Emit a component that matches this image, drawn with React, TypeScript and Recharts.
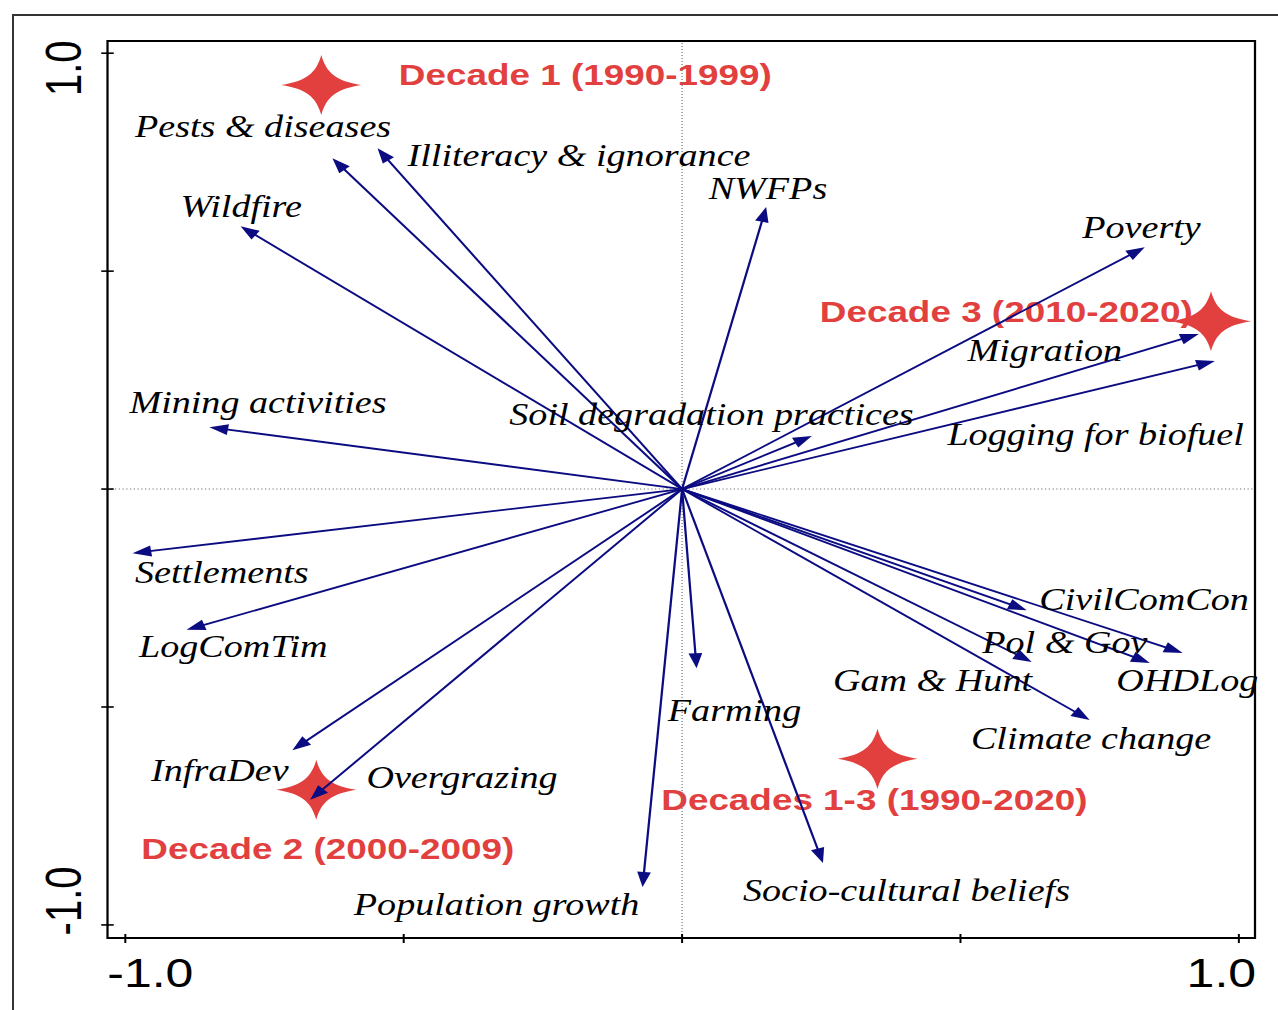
import { ScatterChart, Scatter, XAxis, YAxis, ReferenceLine, ReferenceArea } from 'recharts'

// biplot arrows (variable scores)
const VARIABLES = [
  'Pests & diseases', 'Illiteracy & ignorance', 'Wildfire', 'NWFPs', 'Poverty',
  'Migration', 'Logging for biofuel', 'Soil degradation practices', 'Mining activities', 'Settlements',
  'LogComTim', 'InfraDev', 'Overgrazing', 'Population growth', 'Farming',
  'Socio-cultural beliefs', 'CivilComCon', 'Pol & Gov', 'OHDLog', 'Gam & Hunt',
  'Climate change',
]
const VAR_X = [
  -0.628, -0.547, -0.793, 0.151, 0.831,
  0.928, 0.957, 0.233, -0.849, -0.987,
  -0.890, -0.700, -0.668, -0.071, 0.026,
  0.253, 0.619, 0.840, 0.899, 0.628,
  0.732,
]
const VAR_Y = [
  0.759, 0.782, 0.603, 0.647, 0.555,
  0.356, 0.294, 0.122, 0.142, -0.147,
  -0.323, -0.599, -0.713, -0.913, -0.411,
  -0.858, -0.278, -0.399, -0.376, -0.397,
  -0.530,
]

// decade samples (stars)
const DECADES = ['Decade 1 (1990-1999)', 'Decade 2 (2000-2009)', 'Decade 3 (2010-2020)', 'Decades 1-3 (1990-2020)']
const DECADE_X = [-0.648, -0.657, 0.950, 0.351]
const DECADE_Y = [0.927, -0.690, 0.385, -0.619]

const X_TICKS = [-1, -0.5, 0, 0.5, 1]
const Y_TICKS = [-1, -0.5, 0, 0.5, 1]
const X_DOMAIN = [-1.032, 1.029]
const Y_DOMAIN = [-1.03, 1.028]

// label placement relative to arrow tip / star centre (px, unscaled)
const VAR_LABEL_OFFSET = [
  [-158, -21], [24, 18], [-48, -9], [-46, -8], [-50, -9],
  [-185, 27], [-214, 84], [-242, -11], [-64, -14], [2, 30],
  [-38, 27], [-113, 31], [45, -12], [-231, 28], [-23, 53],
  [-64, 38], [10, 0], [-134, -10], [-53, 38], [-159, 29],
  [-95, 29],
]
const DECADE_LABEL_OFFSET = [[62, 0], [-140, 69], [-313, 1], [-173, 51]]

const RED = '#e23f3f'
const NAVY = '#0b0b82'
const SERIF = "'Liberation Serif', 'Times New Roman', serif"
const SANS = "'Liberation Sans', Arial, sans-serif"
const STRETCH = 1.25
const EPS = 0.001

const varData = VARIABLES.map((name, i) => ({ x: VAR_X[i], y: VAR_Y[i], name, i }))
const decadeData = DECADES.map((name, i) => ({ x: DECADE_X[i], y: DECADE_Y[i], name, i }))

function Arrow(props: any) {
  const { x1, y1, x2, y2 } = props
  const dx = x2 - x1
  const dy = y2 - y1
  const len = Math.hypot(dx, dy)
  const ux = dx / len
  const uy = dy / len
  const hl = 15
  const hw = 5.5
  const bx = x2 - ux * hl
  const by = y2 - uy * hl
  return (
    <g>
      <line x1={x1} y1={y1} x2={bx + ux * 3} y2={by + uy * 3} stroke={NAVY} strokeWidth={1.8} />
      <polygon
        points={`${x2},${y2} ${bx - uy * hw},${by + ux * hw} ${bx + uy * hw},${by - ux * hw}`}
        fill={NAVY}
      />
    </g>
  )
}

// four-point star path (concave sides, sharp tips)
function starPath(cx: number, cy: number) {
  const rx = 32
  const ry = 30
  const a = 4
  const b = 12
  const seg = (sx: number, sy: number) =>
    `C${cx + sx * a},${cy + sy * b} ${cx + sx * b},${cy + sy * a} `
  return `M${cx},${cy - ry} ` +
    seg(1, -1) + `${cx + rx},${cy} ` +
    `C${cx + b},${cy + a} ${cx + a},${cy + b} ${cx},${cy + ry} ` +
    `C${cx - a},${cy + b} ${cx - b},${cy + a} ${cx - rx},${cy} ` +
    `C${cx - b},${cy - a} ${cx - a},${cy - b} ${cx},${cy - ry}Z`
}

// star + red caption, drawn through a tiny ReferenceArea so it sits under the arrows
function makeDecadeMark(i: number) {
  return function DecadeMark({ x, y, width, height }: any) {
    const cx = x + width / 2
    const cy = y + height / 2
    const [dx, dy] = DECADE_LABEL_OFFSET[i]
    return (
      <g>
        <path d={starPath(cx, cy)} fill={RED} />
        <text x={cx + dx} y={cy + dy} fill={RED} fontFamily={SANS} fontWeight="bold" fontSize={29.5}>
          {DECADES[i]}
        </text>
      </g>
    )
  }
}

function VarLabel({ cx, cy, payload }: any) {
  const [dx, dy] = VAR_LABEL_OFFSET[payload.i]
  return (
    <text x={cx + dx} y={cy + dy} fill="#000" fontFamily={SERIF} fontStyle="italic" fontSize={30.5}>
      {payload.name}
    </text>
  )
}

function XTick({ x, y, payload }: any) {
  const v = payload.value
  return (
    <g>
      <line x1={x} x2={x} y1={y - 4} y2={y + 5} stroke="#000" strokeWidth={1.6} />
      {Math.abs(v) === 1 && (
        <text x={x + (v < 0 ? 20 : -14)} y={y + 49} textAnchor="middle" fontFamily={SANS} fontSize={40} fill="#000">
          {v.toFixed(1)}
        </text>
      )}
    </g>
  )
}

function YTick({ x, y, payload }: any) {
  const v = payload.value
  const cy = y + (v > 0 ? 15 : -24)
  const tx = x - 21
  return (
    <g>
      <line x1={x - 5} x2={x + 5} y1={y} y2={y} stroke="#000" strokeWidth={1.6} />
      {Math.abs(v) === 1 && (
        <text x={tx} y={cy} textAnchor="middle" transform={`rotate(-90, ${tx}, ${cy})`} fontFamily={SANS} fontSize={40} fill="#000">
          {v.toFixed(1)}
        </text>
      )}
    </g>
  )
}

export default function App() {
  return (
    <div style={{ position: 'absolute', left: 0, top: 0, width: 1278, height: 1010, overflow: 'hidden', background: '#fff' }}>
      {/* outer figure border */}
      <div style={{ position: 'absolute', left: 12, top: 14, width: 1266, height: 996, borderTop: '2px solid #333', borderLeft: '2px solid #333', boxSizing: 'border-box' }} />
      <div style={{ position: 'absolute', left: 0, top: 0, transform: `scaleX(${STRETCH})`, transformOrigin: '0 0' }}>
        <ScatterChart width={1022} height={1010} margin={{ top: 41, right: 18, bottom: 0, left: 0 }}>
          <XAxis
            type="number" dataKey="x" domain={X_DOMAIN} ticks={X_TICKS} height={72}
            tick={<XTick />} tickLine={false} axisLine={false} tickSize={0} tickMargin={0}
          />
          <YAxis
            type="number" dataKey="y" domain={Y_DOMAIN} ticks={Y_TICKS} width={86}
            tick={<YTick />} tickLine={false} axisLine={false} tickSize={0} tickMargin={0}
          />
          <ReferenceArea x1={X_DOMAIN[0]} x2={X_DOMAIN[1]} y1={Y_DOMAIN[0]} y2={Y_DOMAIN[1]} fill="none" stroke="#000" strokeWidth={1.8} fillOpacity={0} />
          {decadeData.map((d) => (
            <ReferenceArea
              key={d.name}
              x1={d.x - EPS} x2={d.x + EPS} y1={d.y - EPS} y2={d.y + EPS}
              shape={makeDecadeMark(d.i)}
            />
          ))}
          <ReferenceLine x={0} stroke="#777" strokeDasharray="1 2" strokeWidth={1} />
          <ReferenceLine y={0} stroke="#777" strokeDasharray="1 2" strokeWidth={1} />
          <Scatter data={varData} shape={<VarLabel />} isAnimationActive={false} />
          {varData.map((d) => (
            <ReferenceLine key={d.name} segment={[{ x: 0, y: 0 }, { x: d.x, y: d.y }]} shape={Arrow} />
          ))}
        </ScatterChart>
      </div>
    </div>
  )
}
